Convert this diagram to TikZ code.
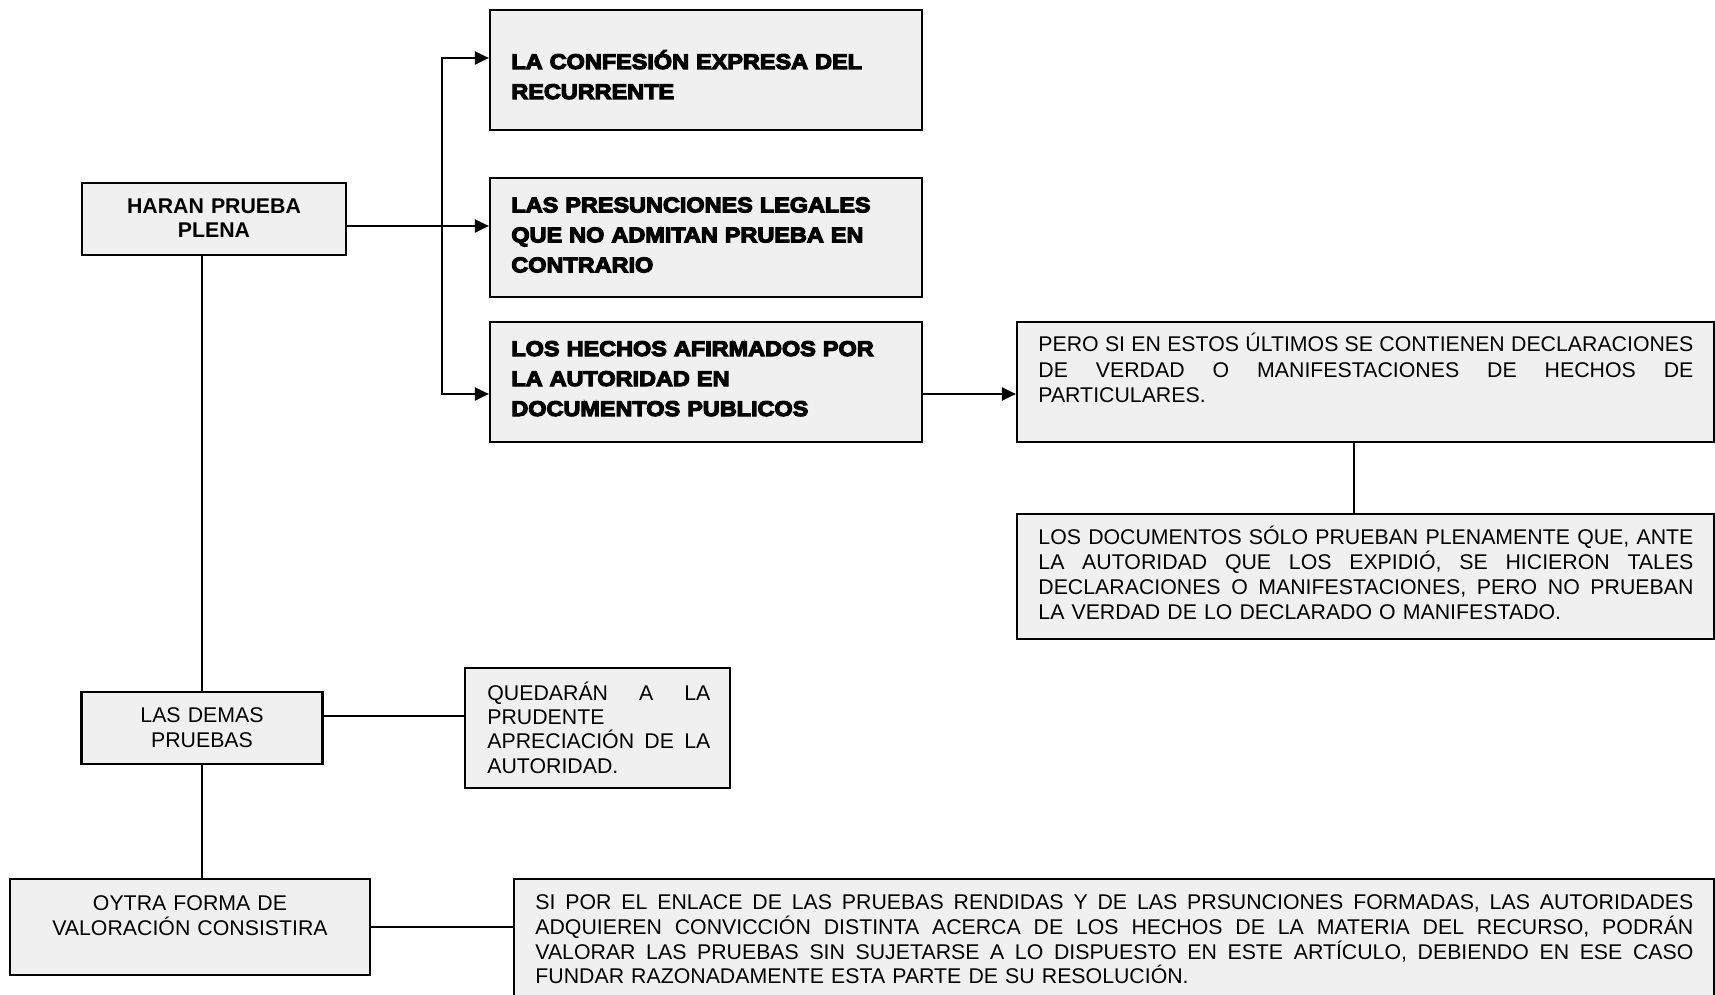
\documentclass[tikz,border=0pt]{standalone}
\usepackage{fontspec}
\setmainfont{Liberation Sans}
\newfontfamily\heavyfont{Liberation Sans Bold}[FakeStretch=1.1, FakeBold=5.5]
\usetikzlibrary{arrows.meta,calc}
\definecolor{boxfill}{RGB}{240,240,240}
% one fully justified line of the given width
\newcommand\jline[2]{\leavevmode\hbox to #1{\spaceskip=0.28em plus 1fil\relax #2}\\}

\begin{document}
\begin{tikzpicture}[x=0.5pt,y=-0.5pt,
  panel/.style={draw=black,line width=1.1pt,fill=boxfill,inner sep=0pt,rectangle},
  conn/.style={line width=1.05pt},
  arrowed/.style={conn,-{Triangle[length=7pt,width=6.5pt]}},
  plain/.style={inner sep=0pt,anchor=base west,align=left,
    font=\fontsize{10.65pt}{12.4pt}\selectfont},
  heavy/.style={inner sep=0pt,anchor=base west,align=left,text width=205pt,
    font=\heavyfont\fontsize{10.65pt}{15pt}\selectfont},
  centred/.style={inner sep=0pt,anchor=base,align=center,text width=175pt,
    font=\fontsize{10.65pt}{12.4pt}\selectfont}]
\useasboundingbox (0,0) rectangle (1715,995);

% boxes
\node[panel,minimum width=132pt,minimum height=36pt]   (haran)  at (214,219) {};
\node[panel,minimum width=216pt,minimum height=60pt]   (conf)   at (706,70) {};
\node[panel,minimum width=216pt,minimum height=59.5pt] (pres)   at (706,237.5) {};
\node[panel,minimum width=216pt,minimum height=60pt]   (hechos) at (706,382) {};
\node[panel,minimum width=348.5pt,minimum height=60pt] (pero)   at (1365.5,382) {};
\node[panel,minimum width=348.5pt,minimum height=62.5pt] (docs) at (1365.5,576.5) {};
\node[panel,minimum width=120.5pt,minimum height=36pt] (demas)  at (202,728) {};
\node[panel,minimum width=132.5pt,minimum height=60pt] (qued)   at (597.5,728) {};
\node[panel,minimum width=180pt,minimum height=48pt]   (oytra)  at (190,927) {};
\node[panel,minimum width=600pt,minimum height=65.5pt] (sipor)  at (1114,944.5) {};

% texts
\node[centred,font=\bfseries\fontsize{10.65pt}{12.2pt}\selectfont] (haran-t) at (214,213.3)
  {HARAN PRUEBA\\PLENA};
\node[heavy] (conf-t) at (511,69) {LA CONFESIÓN EXPRESA DEL\\RECURRENTE};
\node[heavy] (pres-t) at (511,212.3)
  {LAS PRESUNCIONES LEGALES\\QUE NO ADMITAN PRUEBA EN\\CONTRARIO};
\node[heavy] (hechos-t) at (511,356)
  {LOS HECHOS AFIRMADOS POR\\LA AUTORIDAD EN\\DOCUMENTOS PUBLICOS};
\node[plain,text width=327.5pt,font=\fontsize{10.65pt}{12.75pt}\selectfont] (pero-t) at (1038,351.7)
  {\jline{327.5pt}{PERO SI EN ESTOS ÚLTIMOS SE CONTIENEN DECLARACIONES}
   \jline{327.5pt}{DE VERDAD O MANIFESTACIONES DE HECHOS DE}
   PARTICULARES.};
\node[plain,text width=327.5pt,font=\fontsize{10.65pt}{12.5pt}\selectfont] (docs-t) at (1038,544.5)
  {\jline{327.5pt}{LOS DOCUMENTOS SÓLO PRUEBAN PLENAMENTE QUE, ANTE}
   \jline{327.5pt}{LA AUTORIDAD QUE LOS EXPIDIÓ, SE HICIERON TALES}
   \jline{327.5pt}{DECLARACIONES O MANIFESTACIONES, PERO NO PRUEBAN}
   LA VERDAD DE LO DECLARADO O MANIFESTADO.};
\node[centred,font=\fontsize{10.65pt}{12.5pt}\selectfont] (demas-t) at (202,722.3)
  {LAS DEMAS\\PRUEBAS};
\node[plain,text width=111.5pt,font=\fontsize{10.65pt}{12.2pt}\selectfont] (qued-t) at (487,700)
  {\jline{111.5pt}{QUEDARÁN A LA}
   PRUDENTE\\
   \jline{111.5pt}{APRECIACIÓN DE LA}
   AUTORIDAD.};
\node[centred,font=\fontsize{10.65pt}{12.15pt}\selectfont] (oytra-t) at (190,910.7)
  {OYTRA FORMA DE\\VALORACIÓN CONSISTIRA};
\node[plain,text width=579pt,font=\fontsize{10.65pt}{12.4pt}\selectfont] (sipor-t) at (535,909.5)
  {\jline{579pt}{SI POR EL ENLACE DE LAS PRUEBAS RENDIDAS Y DE LAS PRSUNCIONES FORMADAS, LAS AUTORIDADES}
   \jline{579pt}{ADQUIEREN CONVICCIÓN DISTINTA ACERCA DE LOS HECHOS DE LA MATERIA DEL RECURSO, PODRÁN}
   \jline{579pt}{VALORAR LAS PRUEBAS SIN SUJETARSE A LO DISPUESTO EN ESTE ARTÍCULO, DEBIENDO EN ESE CASO}
   FUNDAR RAZONADAMENTE ESTA PARTE DE SU RESOLUCIÓN.};

% connectors
\coordinate (h1) at ($(haran.east)+(0,7)$);
\coordinate (trunk) at (442,226);
\draw[arrowed] (h1) -- (h1 -| pres.west);
\draw[arrowed] (trunk) |- ($(conf.west)+(0,-12)$);
\draw[arrowed] (trunk) |- ($(hechos.west)+(0,12)$);
\draw[arrowed] ($(hechos.east)+(0,12)$) -- ($(pero.west)+(0,12)$);
\draw[conn] ($(pero.south)+(-11.5,0)$) -- ($(docs.north)+(-11.5,0)$);
\draw[conn] (haran.south -| demas.north) -- (demas.north);
\draw[conn] (demas.south) -- (demas.south |- oytra.north);
\coordinate (d1) at ($(demas.east)+(0,-12)$);
\draw[conn] (d1) -- (d1 -| qued.west);
\draw[conn] (oytra.east) -- (oytra.east -| sipor.west);
\end{tikzpicture}
\end{document}
